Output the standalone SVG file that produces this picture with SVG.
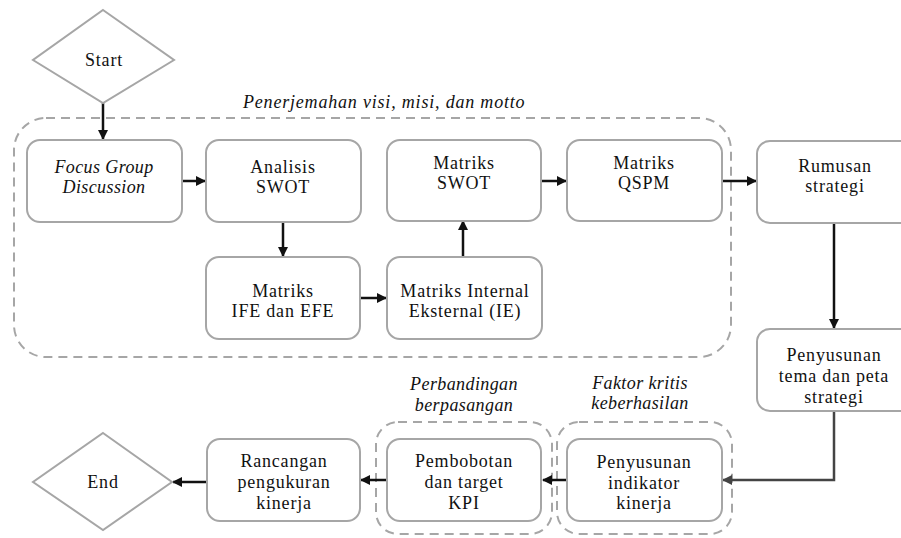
<svg xmlns="http://www.w3.org/2000/svg" width="901" height="538" viewBox="0 0 901 538">
<defs>
<marker id="ah" markerWidth="10" markerHeight="10" refX="9" refY="5" orient="auto" markerUnits="userSpaceOnUse">
<path d="M0,0 L10,5 L0,10 Z" fill="#111"/>
</marker>
<marker id="ahg" markerWidth="10" markerHeight="10" refX="9" refY="5" orient="auto" markerUnits="userSpaceOnUse">
<path d="M0,0 L10,5 L0,10 Z" fill="#444"/>
</marker>
<style>
.box{fill:#fff;stroke:#a6a6a6;stroke-width:2}
.grp{fill:none;stroke:#a6a6a6;stroke-width:2;stroke-dasharray:9,6}
.t{font-family:"Liberation Serif","Times New Roman",serif;font-size:18px;fill:#111;text-anchor:middle;letter-spacing:0.8px}
.i{font-family:"Liberation Serif","Times New Roman",serif;font-size:18px;font-style:italic;fill:#111;text-anchor:middle;letter-spacing:0.4px}
.c{fill:none;stroke:#111;stroke-width:2.5;marker-end:url(#ah)}
.cg{fill:none;stroke:#444;stroke-width:2.5;marker-end:url(#ahg)}
</style>
</defs>
<rect width="901" height="538" fill="#fff"/>

<g id="groups">
<rect class="grp" x="14" y="118" width="717" height="239" rx="32"/>
<text class="i" x="384" y="108" textLength="282" lengthAdjust="spacing">Penerjemahan visi, misi, dan motto</text>
<rect class="grp" x="376" y="422" width="176" height="112" rx="22"/>
<text class="i" x="464" y="390">Perbandingan</text>
<text class="i" x="464" y="411">berpasangan</text>
<rect class="grp" x="557" y="422" width="175" height="112" rx="22"/>
<text class="i" x="640" y="389">Faktor kritis</text>
<text class="i" x="640" y="409">keberhasilan</text>
</g>

<g id="connectors">
<path class="c" d="M103,103 V139"/>
<path class="c" d="M182,181 H205"/>
<path class="c" d="M283,222 V256"/>
<path class="c" d="M360,298 H386"/>
<path class="c" d="M463,257 V221"/>
<path class="c" d="M541,181 H566"/>
<path class="c" d="M722,181 H756"/>
<path class="c" d="M834,223 V328"/>
<path class="cg" d="M834,411 V480 H723"/>
<path class="c" d="M567,480 H543"/>
<path class="c" d="M387,480 H361"/>
<path class="c" d="M207,482 H173"/>
</g>

<g id="start">
<polygon class="box" points="103,10 174,60 103,103 33,60"/>
<text class="t" x="104" y="66">Start</text>
</g>
<g id="fgd">
<rect class="box" x="27" y="140" width="155" height="82" rx="13"/>
<text class="i" x="104" y="173">Focus Group</text>
<text class="i" x="104" y="193">Discussion</text>
</g>
<g id="analisis">
<rect class="box" x="206" y="140" width="155" height="82" rx="13"/>
<text class="t" x="283" y="173">Analisis</text>
<text class="t" x="283" y="193">SWOT</text>
</g>
<g id="swot">
<rect class="box" x="387" y="140" width="154" height="81" rx="13"/>
<text class="t" x="464" y="169">Matriks</text>
<text class="t" x="464" y="189">SWOT</text>
</g>
<g id="qspm">
<rect class="box" x="567" y="140" width="155" height="81" rx="13"/>
<text class="t" x="644" y="169">Matriks</text>
<text class="t" x="644" y="189">QSPM</text>
</g>
<g id="rumusan">
<rect class="box" x="757" y="141" width="160" height="82" rx="13"/>
<text class="t" x="835" y="172">Rumusan</text>
<text class="t" x="835" y="192">strategi</text>
</g>
<g id="ife">
<rect class="box" x="206" y="257" width="154" height="82" rx="13"/>
<text class="t" x="283" y="297">Matriks</text>
<text class="t" x="283" y="317">IFE dan EFE</text>
</g>
<g id="ie">
<rect class="box" x="387" y="257" width="155" height="82" rx="13"/>
<text class="t" x="465" y="297">Matriks Internal</text>
<text class="t" x="465" y="317">Eksternal (IE)</text>
</g>
<g id="tema">
<rect class="box" x="757" y="329" width="160" height="82" rx="13"/>
<text class="t" x="834" y="361">Penyusunan</text>
<text class="t" x="834" y="382">tema dan peta</text>
<text class="t" x="834" y="403">strategi</text>
</g>
<g id="indikator">
<rect class="box" x="567" y="439" width="155" height="82" rx="13"/>
<text class="t" x="644" y="468">Penyusunan</text>
<text class="t" x="644" y="489">indikator</text>
<text class="t" x="644" y="509">kinerja</text>
</g>
<g id="pembobotan">
<rect class="box" x="387" y="439" width="154" height="82" rx="13"/>
<text class="t" x="464" y="467">Pembobotan</text>
<text class="t" x="464" y="488">dan target</text>
<text class="t" x="464" y="509">KPI</text>
</g>
<g id="rancangan">
<rect class="box" x="207" y="439" width="153" height="82" rx="13"/>
<text class="t" x="284" y="467">Rancangan</text>
<text class="t" x="284" y="488">pengukuran</text>
<text class="t" x="284" y="509">kinerja</text>
</g>
<g id="end">
<polygon class="box" points="103,433 172,482 103,530 33,482"/>
<text class="t" x="103" y="488">End</text>
</g>
</svg>
